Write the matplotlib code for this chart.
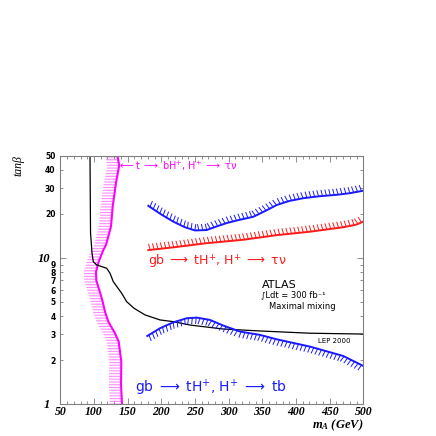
import numpy as np
import matplotlib
matplotlib.use("Agg")
import matplotlib.pyplot as plt
from matplotlib import patheffects
from matplotlib.ticker import FixedLocator, FixedFormatter, NullFormatter

# ---------------- data ----------------
# magenta: t -> bH+, H+ -> tau nu  reach
mag_m = [134.7, 137.5, 132.7, 127.8, 125.3, 118.0, 113.9, 107.0, 103.0, 103.5,
         107.0, 110.0, 113.0, 116.4, 121.3, 131.2, 136.7, 140.6, 140.2, 141.6]
mag_tanb = [50, 43, 32.6, 22.4, 16.4, 12.3, 11.3, 9.4, 8.0, 7.0,
            6.2, 5.6, 5.0, 4.28, 3.66, 3.05, 2.67, 1.95, 1.35, 1.0]

# LEP 2000 exclusion
lep_m = [94.1, 94.9, 97.1, 99.0, 104.1, 118.9, 123.8, 128.7, 141.2, 148.6,
         159.5, 175.8, 198.1, 217.8, 242.6, 291.6, 346.6, 420.8, 500]
lep_tanb = [50, 14.8, 10.8, 9.42, 8.94, 8.49, 7.85, 6.87, 5.72, 5.01,
            4.52, 4.07, 3.76, 3.66, 3.47, 3.26, 3.16, 3.05, 3.01]

# gb -> tH+, H+ -> tau nu  (upper, blue)
bhi_m = [180.7, 200, 217.8, 235, 250, 267.4, 282, 297.1, 316, 336.6,
         355, 371.4, 390, 410.9, 435, 460.5, 480, 500]
bhi_tanb = [22.7, 19.8, 17.7, 16.2, 15.4, 15.5, 16.4, 17.3, 18.2, 19.1,
            21.0, 23.0, 24.5, 25.6, 26.4, 27.0, 27.7, 28.8]

# gb -> tH+, H+ -> tau nu  (lower, red)
red_m = [180.7, 217.8, 267.4, 321.8, 371.4, 420.9, 470.3, 490, 500]
red_tanb = [11.3, 11.8, 12.6, 13.3, 14.3, 15.1, 16.2, 16.9, 17.7]

# gb -> tH+, H+ -> tb  (blue, lower)
blo_m = [179.2, 198.1, 217.8, 237.7, 252.6, 272.3, 292.1, 316.9, 346.6,
         371.4, 420.9, 470.3, 500]
blo_tanb = [2.92, 3.30, 3.62, 3.86, 3.90, 3.76, 3.44, 3.13, 2.97,
            2.77, 2.47, 2.13, 1.82]

band_width = 18  # GeV, width of the hatched band left of the magenta line

x_major = [50, 100, 150, 200, 250, 300, 350, 400, 450, 500]
y_major = [1, 10]
y_minor = [2, 3, 4, 5, 6, 7, 8, 9, 20, 30, 40, 50]

plt.rcParams["mathtext.fontset"] = "custom"
plt.rcParams["mathtext.it"] = "Liberation Serif:italic:bold"
plt.rcParams["mathtext.rm"] = "DejaVu Sans"
plt.rcParams["mathtext.bf"] = "DejaVu Sans:bold"
plt.rcParams["mathtext.sf"] = "DejaVu Sans"
plt.rcParams["hatch.linewidth"] = 0.8

# ---------------- figure ----------------
fig = plt.figure(figsize=(4.36, 4.36), dpi=100)
ax = fig.add_axes([0.1383, 0.0734, 0.695, 0.5695])
ax.set_yscale("log")
ax.set_xlim(50, 500)
ax.set_ylim(1, 50)

gray = "#808080"
for s in ax.spines.values():
    s.set_color(gray)
    s.set_linewidth(0.8)

ax.xaxis.set_major_locator(FixedLocator(x_major))
ax.xaxis.set_minor_locator(FixedLocator(np.arange(50, 501, 10)))
ax.yaxis.set_major_locator(FixedLocator(y_major))
ax.yaxis.set_minor_locator(FixedLocator(y_minor))
ax.yaxis.set_major_formatter(FixedFormatter([str(v) for v in y_major]))
ax.yaxis.set_minor_formatter(FixedFormatter([str(v) for v in y_minor]))
ax.xaxis.set_major_formatter(FixedFormatter([str(v) for v in x_major]))
ax.xaxis.set_minor_formatter(NullFormatter())

ax.tick_params(which="both", direction="in", top=True, right=True, color=gray, width=0.6)
ax.tick_params(which="major", length=4)
ax.tick_params(which="minor", length=2.5)
ax.tick_params(axis="y", which="minor", labelsize=5.5, pad=3.5)
ax.tick_params(axis="y", which="major", labelsize=9, pad=7.5)
ax.tick_params(axis="x", which="major", labelsize=8.5, pad=1.5)

for lab in ax.get_xticklabels() + ax.get_yticklabels():
    lab.set_fontfamily("Liberation Serif"); lab.set_fontweight("bold"); lab.set_fontstyle("italic")
for lab in ax.get_yticklabels(minor=True):
    lab.set_fontfamily("DejaVu Sans"); lab.set_fontweight("bold")

# magenta hatched band
mm = np.array(mag_m)
ax.fill_betweenx(mag_tanb, mm - band_width, mm, facecolor="none",
                 edgecolor="#ff8cff", hatch="-" * 6, linewidth=0)
ax.plot(mag_m, mag_tanb, color="#ff00ff", lw=1.5)

# LEP line
ax.plot(lep_m, lep_tanb, color="black", lw=0.9)

# ticked exclusion curves
def ticked(angle):
    return [patheffects.withTickedStroke(angle=angle, spacing=2.8, length=1.5, linewidth=0.7)]

ax.plot(bhi_m, bhi_tanb, color="#1a1aff", lw=1.4, path_effects=ticked(100))
ax.plot(red_m, red_tanb, color="#ff1a1a", lw=1.4, path_effects=ticked(100))
ax.plot(blo_m, blo_tanb, color="#1a1aff", lw=1.4, path_effects=ticked(-100))

# labels
fig.text(118/436, 1-166/436,
         r"$\longleftarrow$t $\longrightarrow$ bH$^{+}$, H$^{+}$ $\longrightarrow$ $\mathrm{\tau\nu}$",
         color="#ff00ff", fontsize=7, ha="left", va="center")
fig.text(148/436, 1-261/436,
         r"gb $\longrightarrow$ tH$^{+}$, H$^{+}$ $\longrightarrow$ $\mathrm{\tau\nu}$",
         color="#ff1a1a", fontsize=9, ha="left", va="center")
fig.text(135/436, 1-388/436,
         r"gb $\longrightarrow$ tH$^{+}$, H$^{+}$ $\longrightarrow$ tb",
         color="#1a1aff", fontsize=10, ha="left", va="center")
fig.text(279/436, 1-285/436, "ATLAS", fontsize=8, ha="center", va="center")
fig.text(293/436, 1-295/436, "∫Ldt = 300 fb⁻¹", fontsize=6, ha="center", va="center")
fig.text(302/436, 1-306/436, "Maximal mixing", fontsize=6, ha="center", va="center")
fig.text(334/436, 1-341/436, "LEP 2000", fontsize=5, ha="center", va="center")

fig.text(18/436, 1-166/436, "tanβ", fontsize=8.5, rotation=90,
         ha="center", va="center", family="Liberation Serif", style="italic")
fig.text(363/436, 1-425/436, r"$m_A$ (GeV)", fontsize=9,
         ha="right", va="center", family="Liberation Serif", weight="bold", style="italic")

fig.savefig("out.png", dpi=100)
